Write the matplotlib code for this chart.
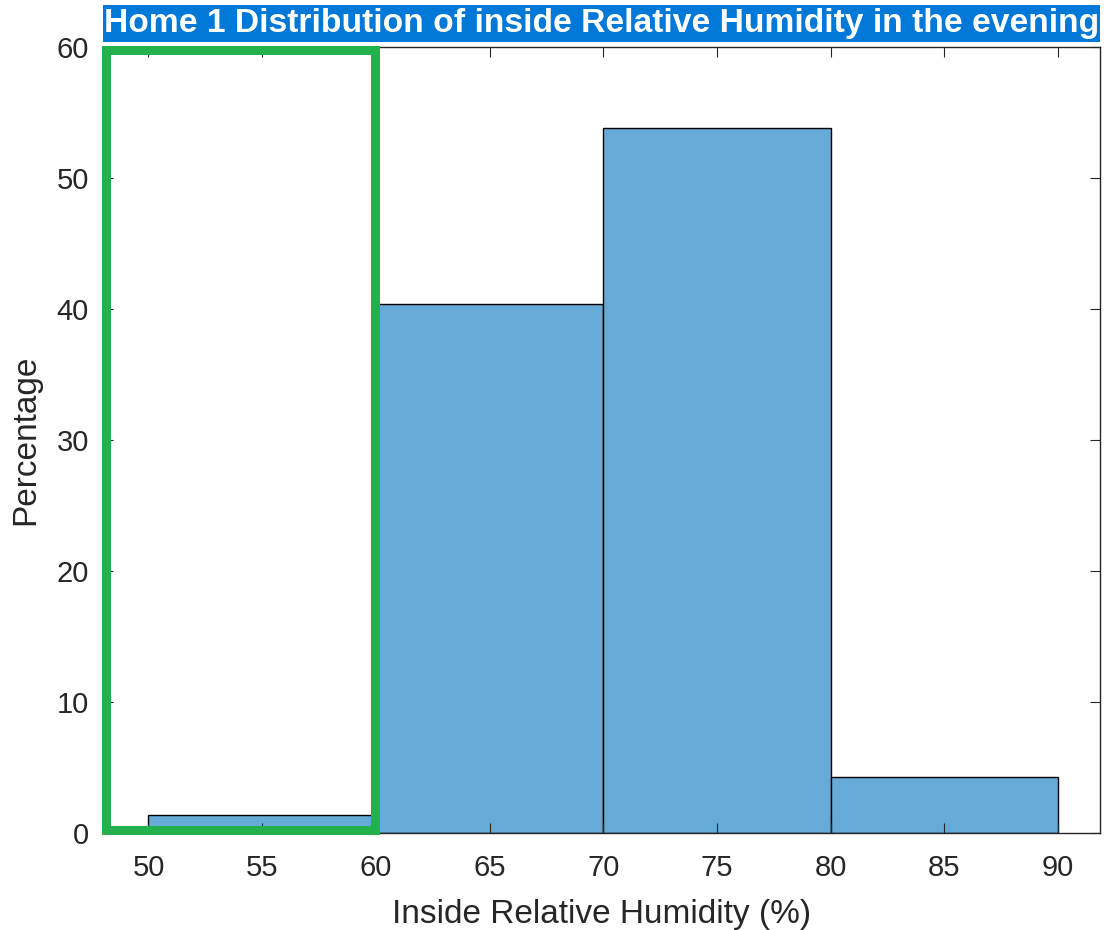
import matplotlib.pyplot as plt
from matplotlib.patches import Rectangle

# histogram data (percent per bin)
bin_edges = [50, 60, 70, 80, 90]
percentages = [1.4, 40.4, 53.8, 4.3]
x_ticks = [50, 55, 60, 65, 70, 75, 80, 85, 90]
y_ticks = [0, 10, 20, 30, 40, 50, 60]
title = 'Home 1 Distribution of inside Relative Humidity in the evening'

plt.rcParams['font.family'] = ['Liberation Sans', 'DejaVu Sans']

fig = plt.figure(figsize=(11.04, 9.30), dpi=100)
ax = fig.add_axes([103 / 1104, 1 - 833 / 930, 997 / 1104, 786 / 930])

widths = [bin_edges[i + 1] - bin_edges[i] for i in range(len(percentages))]
ax.bar(bin_edges[:-1], percentages, width=widths, align='edge',
       color='#66aad7', edgecolor='black', linewidth=1.0)

ax.set_xlim(48, 91.85)
ax.set_ylim(0, 60)
ax.set_xticks(x_ticks)
ax.set_yticks(y_ticks)
ax.tick_params(direction='in', top=True, right=True, length=7,
               labelsize=21, colors='#262626')
ax.tick_params(axis='x', pad=15)
ax.tick_params(axis='y', pad=10)
for s in ax.spines.values():
    s.set_color('#262626')
    s.set_linewidth(1.0)

ax.set_xlabel('Inside Relative Humidity (%)', fontsize=24, color='#262626', labelpad=12)
ax.set_ylabel('Percentage', fontsize=24, color='#262626', labelpad=11)

# title with highlighted background
box = Rectangle((103 / 1104, 1 - 42 / 930), 997 / 1104, 37 / 930,
                transform=fig.transFigure, facecolor='#0078d7', edgecolor='none')
fig.patches.append(box)
fig.text(104 / 1104, 1 - 23.5 / 930, title, color='white', fontsize=24.2,
         fontweight='bold', va='center', ha='left')

# green highlight box
ax.add_patch(Rectangle((48.15, 0.23), 59.96 - 48.15, 59.8 - 0.23,
                       fill=False, edgecolor='#22b14c', linewidth=6.5,
                       clip_on=False, zorder=5))

fig.savefig('out.png', dpi=100)
